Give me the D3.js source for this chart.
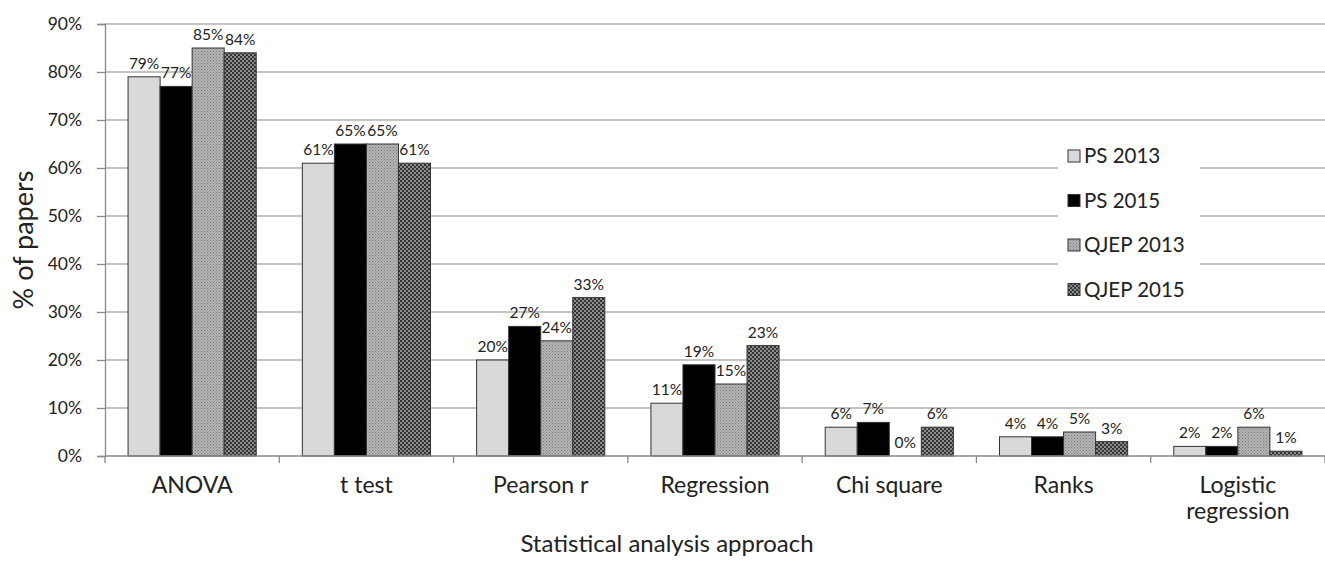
<!DOCTYPE html>
<html><head><meta charset="utf-8">
<script src="https://cdn.jsdelivr.net/npm/d3@7"></script>
<style>body{margin:0;background:#fff}svg{display:block}text{font-family:Lato,"Open Sans",sans-serif;fill:#222}</style>
</head><body>
<script>
const categories = ["ANOVA","t test","Pearson r","Regression","Chi square","Ranks","Logistic regression"];
const seriesNames = ["PS 2013","PS 2015","QJEP 2013","QJEP 2015"];
const ps2013 = [79,61,20,11,6,4,2];
const ps2015 = [77,65,27,19,7,4,2];
const qjep2013 = [85,65,24,15,0,5,6];
const qjep2015 = [84,61,33,23,6,3,1];
const yTicks = [0,10,20,30,40,50,60,70,80,90];
const series = [ps2013, ps2015, qjep2013, qjep2015];

const W=1325,H=564;
const m={l:105,r:0,t:24,b:108};
const svg=d3.select("body").append("svg").attr("width",W).attr("height",H);
const defs=svg.append("defs");
const p1=defs.append("pattern").attr("id","pat1").attr("width",3).attr("height",3).attr("patternUnits","userSpaceOnUse");
p1.append("rect").attr("width",3).attr("height",3).attr("fill","#b4b4b4");
p1.append("rect").attr("width",1).attr("height",1).attr("fill","#7a7a7a");
p1.append("rect").attr("x",1.5).attr("y",1.5).attr("width",1).attr("height",1).attr("fill","#8a8a8a");
const p2=defs.append("pattern").attr("id","pat2").attr("width",4).attr("height",4).attr("patternUnits","userSpaceOnUse");
p2.append("rect").attr("width",4).attr("height",4).attr("fill","#8c8c8c");
p2.append("rect").attr("width",2).attr("height",2).attr("fill","#333");
p2.append("rect").attr("x",2).attr("y",2).attr("width",2).attr("height",2).attr("fill","#333");
const fills=["#d9d9d9","#000","url(#pat1)","url(#pat2)"];

const x=d3.scaleBand().domain(categories).range([m.l,W-m.r]).paddingInner(0).paddingOuter(0);
const x1=d3.scaleBand().domain(d3.range(4)).range([0,x.bandwidth()]).paddingOuter(0.72);
const y=d3.scaleLinear().domain([0,90]).range([H-m.b,m.t]);

const g=svg.append("g");
g.selectAll(".grid").data(yTicks.slice(1)).join("line")
 .attr("x1",m.l).attr("x2",W-m.r).attr("y1",d=>y(d)).attr("y2",d=>y(d))
 .attr("stroke","#b0b0b0").attr("stroke-width",1.3);

categories.forEach((c,ci)=>{
  series.forEach((s,si)=>{
    const v=s[ci];
    g.append("rect").attr("x",x(c)+x1(si)).attr("y",y(v)).attr("width",x1.bandwidth()).attr("height",y(0)-y(v))
     .attr("fill",fills[si]).attr("stroke","#333").attr("stroke-width",v>0?1:0);
    g.append("text").attr("x",x(c)+x1(si)+x1.bandwidth()/2).attr("y",y(v)-8)
     .attr("text-anchor","middle").attr("font-size",15.5).text(v+"%");
  });
});

const ya=svg.append("g").attr("transform",`translate(${m.l},0)`)
 .call(d3.axisLeft(y).tickValues(yTicks).tickFormat(d=>d+"%").tickSize(8).tickPadding(15));
ya.select(".domain").attr("stroke","#888").attr("stroke-width",1.3);
ya.selectAll(".tick line").attr("stroke","#888").attr("stroke-width",1.3);
ya.selectAll(".tick text").attr("font-size",17.5).attr("font-family","Lato,sans-serif").attr("fill","#222");

const xa=svg.append("g").attr("transform",`translate(0,${y(0)})`);
xa.append("line").attr("x1",m.l).attr("x2",W-m.r).attr("stroke","#888").attr("stroke-width",1.3);
const bounds=categories.map(c=>x(c)).concat([W-m.r]);
xa.selectAll(".xt").data(bounds).join("line").attr("x1",d=>d).attr("x2",d=>d).attr("y1",0).attr("y2",7).attr("stroke","#888").attr("stroke-width",1.3);
categories.forEach(c=>{
  const words=c==="Logistic regression"?["Logistic","regression"]:[c];
  words.forEach((w,i)=>{
    xa.append("text").attr("x",x(c)+x.bandwidth()/2).attr("y",37+i*26).attr("text-anchor","middle").attr("font-size",23).text(w);
  });
});

svg.append("text").attr("transform",`translate(33,${(m.t+H-m.b)/2}) rotate(-90)`).attr("text-anchor","middle").attr("font-size",27).text("% of papers");
svg.append("text").attr("x",667).attr("y",552).attr("text-anchor","middle").attr("font-size",24).text("Statistical analysis approach");

const lg=svg.append("g").attr("transform","translate(1058,135)");
lg.append("rect").attr("width",142).attr("height",172).attr("fill","#fff");
seriesNames.forEach((n,i)=>{
  const yy=21+i*44.5;
  lg.append("rect").attr("x",10).attr("y",yy-6).attr("width",12).attr("height",12).attr("fill",fills[i]).attr("stroke","#333").attr("stroke-width",1);
  lg.append("text").attr("x",26).attr("y",yy+7).attr("font-size",20.5).text(n);
});
</script>
</body></html>
